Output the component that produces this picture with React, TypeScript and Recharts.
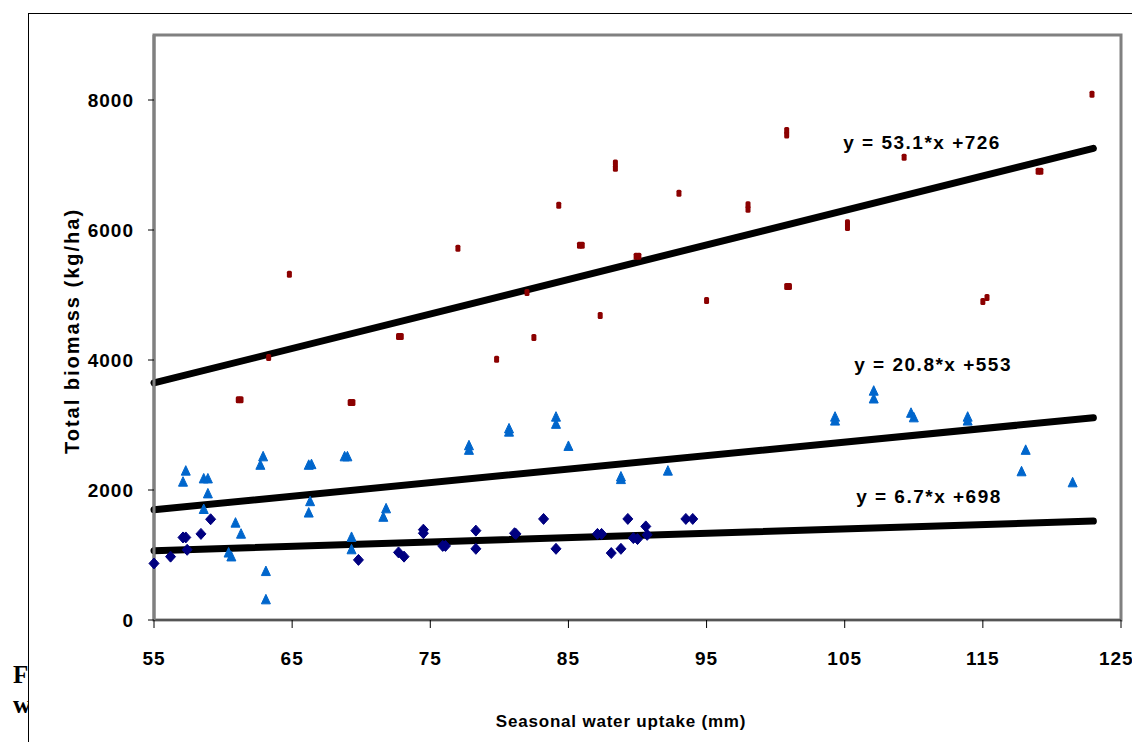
import { ReferenceArea, ReferenceDot, ReferenceLine, Scatter, ScatterChart, XAxis, YAxis } from "recharts";

// seasonal water uptake (mm) vs total biomass (kg/ha)
const redPts = [
  [61.1, 3390], [61.3, 3390], [64.8, 5320], [63.3, 4040], [69.2, 3345], [69.4, 3345], [72.7, 4360], [72.9, 4360],
  [77.0, 5720], [79.8, 4010], [82.0, 5040], [82.5, 4345], [84.3, 6380], [85.8, 5765], [86.0, 5765], [87.3, 4685],
  [88.4, 7030], [88.4, 6950], [89.9, 5595], [90.1, 5595], [93.0, 6565], [95.0, 4915], [98.0, 6390], [98.0, 6320],
  [100.8, 7530], [100.8, 7460], [100.8, 5130], [101.0, 5130], [105.2, 6110], [105.2, 6040], [109.3, 7120],
  [115.0, 4900], [115.3, 4960], [119.0, 6905], [119.2, 6905], [122.9, 8090],
];
const bluePts = [
  [57.1, 2120], [57.3, 2290], [58.6, 2170], [58.9, 2170], [58.9, 1940], [58.6, 1700], [60.9, 1490], [61.3, 1320],
  [60.4, 1030], [60.6, 970], [62.9, 2510], [62.7, 2380], [63.1, 745], [63.1, 310], [66.4, 2390], [66.2, 2380],
  [66.3, 1820], [66.2, 1645], [69.0, 2510], [68.8, 2510], [69.3, 1270], [69.3, 1080], [71.8, 1710], [71.6, 1580],
  [77.8, 2680], [77.8, 2610], [80.7, 2940], [80.7, 2890], [84.1, 3120], [84.1, 3010], [85.0, 2670], [88.8, 2200],
  [88.8, 2160], [92.2, 2290], [104.3, 3120], [104.3, 3060], [107.1, 3520], [107.1, 3400], [109.8, 3180],
  [110.0, 3110], [113.9, 3120], [113.9, 3060], [118.1, 2610], [117.8, 2280], [121.5, 2110],
];
const navyPts = [
  [55.0, 870], [56.2, 975], [57.1, 1270], [57.3, 1270], [57.4, 1080], [58.4, 1325], [59.1, 1550], [69.8, 925],
  [72.7, 1040], [73.1, 975], [74.5, 1390], [74.5, 1335], [75.9, 1140], [76.1, 1140], [78.3, 1375], [78.3, 1095],
  [81.1, 1335], [81.2, 1325], [83.2, 1555], [84.1, 1095], [87.1, 1325], [87.4, 1325], [88.1, 1030], [88.8, 1095],
  [89.3, 1555], [89.7, 1260], [90.0, 1245], [90.6, 1440], [90.7, 1310], [93.5, 1555], [94.0, 1555],
];

const xTicks = [55, 65, 75, 85, 95, 105, 115, 125];
const yTicks = [0, 2000, 4000, 6000, 8000];

// fitted lines as printed on the chart
const fitSlopes = [53.1, 20.8, 6.7];
const fitIntercepts = [726, 553, 698];
const fitLabels = ["y = 53.1*x +726", "y = 20.8*x +553", "y = 6.7*x +698"];
const fitLabelX = [110.6, 111.4, 111.1];
const fitLabelY = [7350, 3930, 1900];
const fitRange = [55, 123];

const toObj = (pts: number[][]) => pts.map(([x, y]) => ({ x, y }));

const font = "'Liberation Sans', Arial, sans-serif";

const Square = (p: any) => <rect x={p.cx - 2.5} y={p.cy - 3.5} width={5} height={7} rx={1.5} fill="#8B0000" />;
const Triangle = (p: any) => (
  <path d={`M${p.cx},${p.cy - 5.5} L${p.cx + 4.5},${p.cy + 4} L${p.cx - 4.5},${p.cy + 4} Z`} fill="#0066CC" stroke="#0066CC" strokeLinejoin="round" strokeWidth={1} />
);
const Diamond = (p: any) => (
  <path d={`M${p.cx},${p.cy - 5.5} L${p.cx + 5},${p.cy} L${p.cx},${p.cy + 5.5} L${p.cx - 5},${p.cy} Z`} fill="#000080" stroke="#000080" strokeLinejoin="round" strokeWidth={1} />
);

const tickStyle = { fill: "#000", fontSize: 19, fontWeight: "bold", fontFamily: font, letterSpacing: 1 };

export default function App() {
  return (
    <div style={{ position: "absolute", left: 0, top: 0, width: 1132, height: 742, background: "#fff", overflow: "hidden" }}>
      <div style={{ position: "absolute", left: 28, top: 13, right: 0, bottom: 0, borderLeft: "1.5px solid #000", borderTop: "1.5px solid #000" }} />
      <div style={{ position: "absolute", left: 0, top: 660, width: 28, overflow: "hidden", fontFamily: "'Liberation Serif', 'Times New Roman', serif", fontWeight: "bold", fontSize: 25, lineHeight: "30px", whiteSpace: "nowrap" }}>
        <div style={{ paddingLeft: 13 }}>Fig</div>
        <div style={{ paddingLeft: 13 }}>wa</div>
      </div>
      <ScatterChart width={1132} height={742} margin={{ top: 35, right: 11, bottom: 82, left: 94 }} style={{ position: "absolute", left: 0, top: 0 }}>
        <ReferenceArea x1={55} x2={125} y1={0} y2={9000} fill="none" stroke="#808080" strokeWidth={3} />
        <XAxis
          type="number"
          dataKey="x"
          domain={[55, 125]}
          ticks={xTicks}
          height={40}
          tick={tickStyle}
          tickSize={8}
          tickMargin={24}
          axisLine={{ stroke: "#555", strokeWidth: 2 }}
          tickLine={{ stroke: "#000" }}
        />
        <YAxis
          type="number"
          dataKey="y"
          domain={[0, 9000]}
          ticks={yTicks}
          width={60}
          tick={tickStyle}
          tickSize={6}
          tickMargin={14}
          axisLine={{ stroke: "#808080", strokeWidth: 3 }}
          tickLine={{ stroke: "#000" }}
        />
        <Scatter data={toObj(redPts)} shape={Square} isAnimationActive={false} />
        <Scatter data={toObj(bluePts)} shape={Triangle} isAnimationActive={false} />
        <Scatter data={toObj(navyPts)} shape={Diamond} isAnimationActive={false} />
        {fitSlopes.map((m, i) => (
          <ReferenceLine
            key={i}
            segment={[
              { x: fitRange[0], y: m * fitRange[0] + fitIntercepts[i] },
              { x: fitRange[1], y: m * fitRange[1] + fitIntercepts[i] },
            ]}
            stroke="#000"
            strokeWidth={7}
            strokeLinecap="round"
          />
        ))}
        {fitLabels.map((t, i) => (
          <ReferenceDot
            key={t}
            x={fitLabelX[i]}
            y={fitLabelY[i]}
            r={0}
            shape={(p: any) => (
              <text x={p.cx} y={p.cy} textAnchor="middle" dominantBaseline="central" fontFamily={font} fontWeight="bold" fontSize={19} letterSpacing={1.5} fill="#000">
                {t}
              </text>
            )}
          />
        ))}
      </ScatterChart>
      <div style={{ position: "absolute", left: 72, top: 331, transform: "translate(-50%, -50%) rotate(-90deg)", whiteSpace: "nowrap", fontFamily: font, fontWeight: "bold", fontSize: 20, letterSpacing: 2 }}>
        Total biomass (kg/ha)
      </div>
      <div style={{ position: "absolute", left: 621, top: 722, transform: "translate(-50%, -50%)", whiteSpace: "nowrap", fontFamily: font, fontWeight: "bold", fontSize: 17, letterSpacing: 0.8 }}>
        Seasonal water uptake (mm)
      </div>
    </div>
  );
}
